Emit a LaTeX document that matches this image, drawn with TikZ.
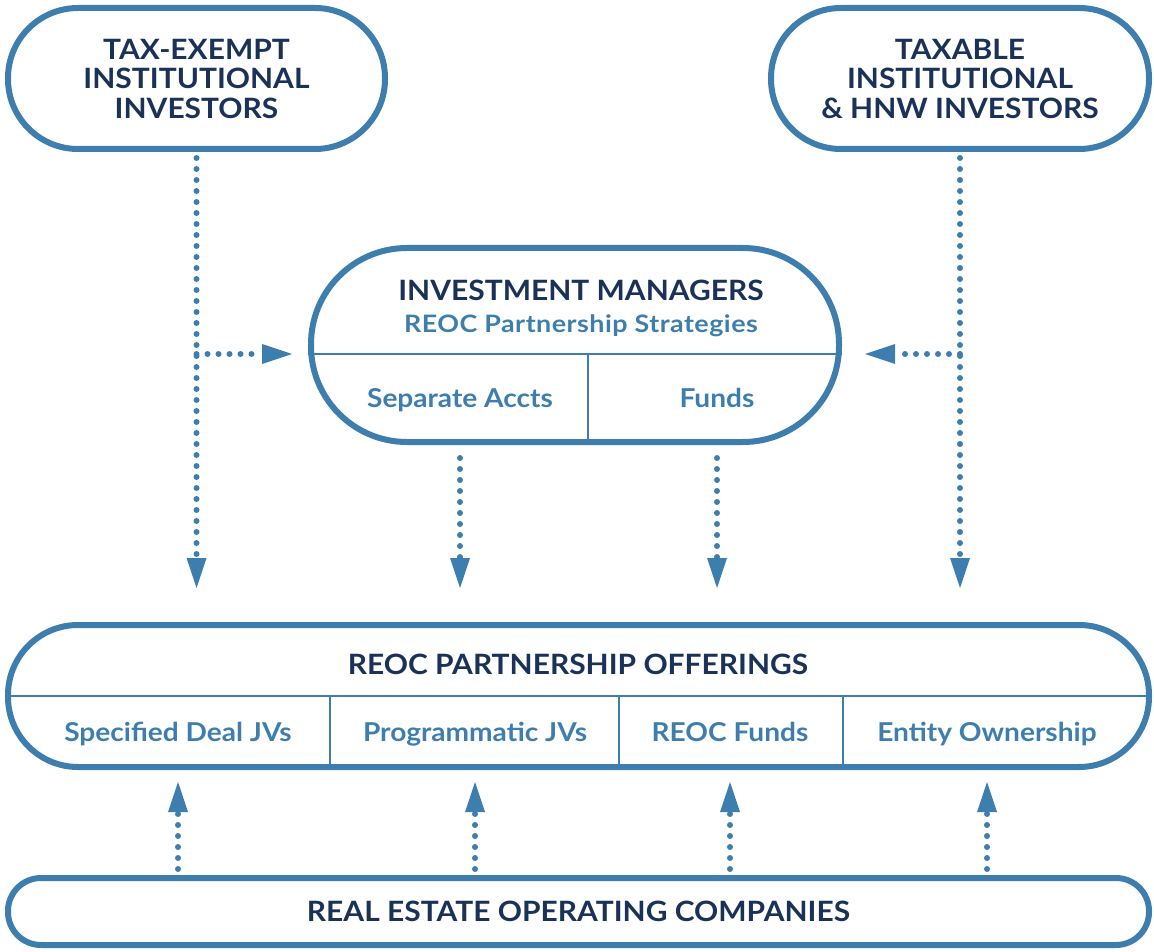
\documentclass[tikz,border=0pt]{standalone}
\usepackage{fontspec}
\setmainfont{Lato}
\newfontfamily\headfont{Lato}[FakeStretch=1.07]
\newfontfamily\cellfont{Lato}[FakeStretch=1.08]
\newfontfamily\subfont{Lato}[FakeStretch=1.12,LetterSpace=2]
\usetikzlibrary{arrows.meta}
\definecolor{reocblue}{RGB}{62,126,174}
\definecolor{reocnavy}{RGB}{26,50,88}

\begin{document}
\begin{tikzpicture}[x=1pt,y=-1pt]
    \tikzstyle{pill} = [draw=reocblue, line width=6pt, rectangle, inner sep=0pt, text=reocnavy, align=center, font=\headfont\bfseries\fontsize{28}{29.5}\selectfont];
    \tikzstyle{head} = [inner sep=0pt, anchor=base, text=reocnavy, font=\headfont\bfseries\fontsize{28}{30}\selectfont];
    \tikzstyle{cell} = [inner sep=0pt, anchor=base, text=reocblue, font=\cellfont\bfseries\fontsize{26}{28}\selectfont];
    \tikzstyle{divide} = [draw=reocblue, line width=2pt];
    \tikzstyle{flow} = [draw=reocblue, line width=6pt, line cap=round, dash pattern=on 0pt off 11pt, -{Triangle[width=20pt,length=30pt,line width=0pt]}];
    \useasboundingbox (0,0) rectangle (1154,952);

    % investors
    \node[pill, minimum width=377pt, minimum height=141pt, rounded corners=70pt] (taxex) at (196.5,78.5) {TAX-EXEMPT\\INSTITUTIONAL\\INVESTORS};
    \node[pill, minimum width=378pt, minimum height=141pt, rounded corners=70pt] (taxin) at (960,78.5) {TAXABLE\\INSTITUTIONAL\\\& HNW INVESTORS};

    % investment managers
    \node[pill, minimum width=528pt, minimum height=194pt, rounded corners=96pt] (mgr) at (575,345) {};
    \coordinate (mgrsplit) at (588,354);
    \node[head] (mgrtitle) at (581,300) {INVESTMENT MANAGERS};
    \node[cell, font=\subfont\bfseries\fontsize{24}{26}\selectfont] (mgrsub) at (581,332) {REOC Partnership Strategies};
    \node[cell] (sep) at (460,407) {Separate Accts};
    \node[cell] (fnd) at (717,407) {Funds};
    \draw[divide] (mgr.west |- mgrsplit) -- (mgr.east |- mgrsplit);
    \draw[divide] (mgrsplit) -- (mgrsplit |- mgr.south);

    % offerings
    \node[pill, minimum width=1141pt, minimum height=142pt, rounded corners=70pt] (off) at (578.5,696) {};
    \node[head] (offtitle) at (578,674) {REOC PARTNERSHIP OFFERINGS};
    \node[cell] (spec) at (178,741) {Specified Deal JVs};
    \node[cell] (prog) at (475,741) {Programmatic JVs};
    \node[cell] (rfund) at (730,741) {REOC Funds};
    \node[cell] (ent) at (987,741) {Entity Ownership};
    \draw[divide] (off.west) -- (off.east);
    \foreach \x in {330,619,843}
        \draw[divide] (\x,696) -- (\x,767);

    % operating companies
    \node[pill, minimum width=1141pt, minimum height=67pt, rounded corners=33pt] (reoc) at (578.5,911.5) {REAL ESTATE OPERATING COMPANIES};

    % flows
    \draw[flow, shorten <=6pt, shorten >=34pt] (taxex.south) -- (taxex.south |- off.north);
    \draw[flow, shorten <=6pt, shorten >=34pt] (taxin.south) -- (taxin.south |- off.north);
    \draw[flow, shorten >=16pt] (taxex.south |- mgrsplit) -- (mgr.west |- mgrsplit);
    \draw[flow, shorten >=23pt] (taxin.south |- mgrsplit) -- (mgr.east |- mgrsplit);
    \draw[flow, shorten <=13pt, shorten >=34pt] (sep |- mgr.south) -- (sep |- off.north);
    \draw[flow, shorten <=13pt, shorten >=34pt] (fnd |- mgr.south) -- (fnd |- off.north);
    \foreach \c in {spec,prog,rfund,ent}
        \draw[flow, shorten <=6pt, shorten >=12pt] (\c |- reoc.north) -- (\c |- off.south);
\end{tikzpicture}
\end{document}
